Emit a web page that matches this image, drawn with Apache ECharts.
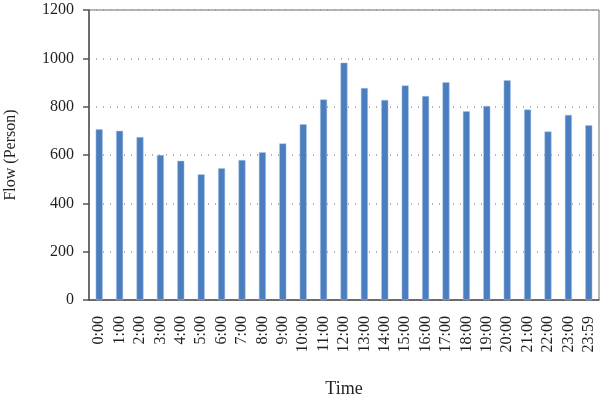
<!DOCTYPE html>
<html>
<head>
<meta charset="utf-8">
<script src="https://cdn.jsdelivr.net/npm/echarts@6/dist/echarts.min.js"></script>
<style>
  html, body { margin: 0; padding: 0; background: #fff; }
  #chart { width: 600px; height: 399px; }
</style>
</head>
<body>
<div id="chart"></div>
<script>
const hours = ["0:00", "1:00", "2:00", "3:00", "4:00", "5:00", "6:00", "7:00", "8:00", "9:00",
  "10:00", "11:00", "12:00", "13:00", "14:00", "15:00", "16:00", "17:00", "18:00", "19:00",
  "20:00", "21:00", "22:00", "23:00", "23:59"];
const flow = [707, 700, 674, 600, 576, 520, 545, 579, 611, 648,
  727, 830, 982, 877, 828, 888, 844, 901, 781, 803,
  909, 788, 697, 766, 723];

const chart = echarts.init(document.getElementById("chart"));
const font = "Liberation Serif";
const ink = "#231f20";

chart.setOption({
  animation: false,
  grid: {
    left: 89, right: 1, top: 10, bottom: 99,
    outerBoundsMode: "none",
    containLabel: false,
    show: true, borderColor: "#6d6d6d", borderWidth: 1
  },
  xAxis: {
    type: "category",
    data: hours,
    name: "Time",
    nameLocation: "middle",
    nameGap: 80,
    nameTextStyle: { fontFamily: font, fontSize: 18, color: ink },
    axisLine: { lineStyle: { color: "#555", width: 1.5 } },
    axisTick: { alignWithLabel: true, length: 6, lineStyle: { color: "#555", width: 1.5 } },
    axisLabel: { rotate: 90, margin: 16, fontFamily: font, fontSize: 16, color: ink, interval: 0 }
  },
  yAxis: {
    type: "value",
    min: 0, max: 1200, interval: 200,
    name: "Flow (Person)",
    nameLocation: "middle",
    nameGap: 70,
    nameTextStyle: { fontFamily: font, fontSize: 16, color: ink },
    axisLine: { show: true, lineStyle: { color: "#555", width: 1.5 } },
    axisTick: { show: true, length: 6, lineStyle: { color: "#555", width: 1.5 } },
    axisLabel: { margin: 15, fontFamily: font, fontSize: 16, color: ink, formatter: v => String(v) },
    splitLine: { lineStyle: { color: "#999", type: [1, 6], width: 1.5 } }
  },
  series: [{
    type: "bar",
    data: flow,
    barWidth: 7,
    itemStyle: { color: "#4a7ebf", borderColor: "#a9c4e6", borderWidth: 0.5 }
  }]
});
</script>
</body>
</html>
